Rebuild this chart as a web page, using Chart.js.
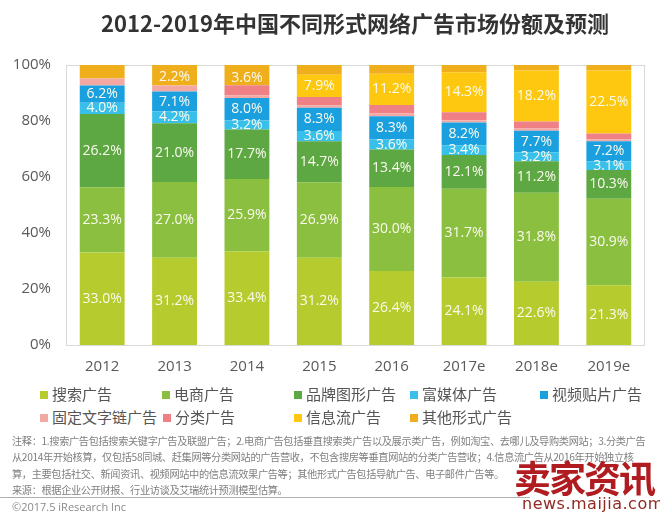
<!DOCTYPE html>
<html>
<head>
<meta charset="utf-8">
<script src="https://cdn.jsdelivr.net/npm/chart.js@4.4.0/dist/chart.umd.min.js"></script>
<style>
  body { margin: 0; background: #fff; font-family: "Noto Sans CJK SC", "Open Sans", sans-serif; }
  #wrap { position: relative; width: 660px; height: 515px; overflow: hidden; }
  #title { position: absolute; top: 6px; left: 0; width: 710px; text-align: center; font-size: 22px; font-weight: bold; color: #333; }
  #chartBox { position: absolute; left: 0; top: 0; width: 660px; height: 385px; }
  .lg { position: absolute; font-size: 15px; color: #555; white-space: nowrap; line-height: 18px; }
  .lg i { display: inline-block; width: 8px; height: 8px; margin-right: 4px; vertical-align: 1px; }
  #notes { position: absolute; left: 12px; top: 433px; font-size: 10.2px; letter-spacing: -0.35px; line-height: 16.3px; color: #7f7f7f; white-space: nowrap; }
  #rule { position: absolute; left: 0; top: 497px; width: 530px; height: 1px; background: #b0b0b0; }
  #copy { position: absolute; left: 12px; top: 499px; font-size: 11px; color: #8a8a8a; font-family: "Open Sans", sans-serif; }
  #wm1 { position: absolute; left: 514px; top: 450px; font-size: 37px; font-weight: bold; color: #b01c20; letter-spacing: -2px; }
  #wm2 { position: absolute; left: 522px; top: 494px; font-size: 16px; color: #8e2a22; letter-spacing: 0.5px; font-family: "DejaVu Sans", sans-serif; }
</style>
</head>
<body>
<div id="wrap">
  <div id="chartBox"><canvas id="share-chart" width="660" height="385"></canvas></div>
  <div id="title">2012-2019年中国不同形式网络广告市场份额及预测</div>
  <div id="legend"></div>
  <div id="notes">注释：1.搜索广告包括搜索关键字广告及联盟广告；2.电商广告包括垂直搜索类广告以及展示类广告，例如淘宝、去哪儿及导购类网站；3.分类广告<br>从2014年开始核算，仅包括58同城、赶集网等分类网站的广告营收，不包含搜房等垂直网站的分类广告营收；4.信息流广告从2016年开始独立核<br>算，主要包括社交、新闻资讯、视频网站中的信息流效果广告等；其他形式广告包括导航广告、电子邮件广告等。<br>来源：根据企业公开财报、行业访谈及艾瑞统计预测模型估算。</div>
  <div id="rule"></div>
  <div id="copy">©2017.5 iResearch Inc</div>
  <div id="wm1">卖家资讯</div>
  <div id="wm2">news.maijia.com</div>
</div>
<script>
var years = ["2012", "2013", "2014", "2015", "2016", "2017e", "2018e", "2019e"];

// shares in %, bottom of the stack first
var search     = [33.0, 31.2, 33.4, 31.2, 26.4, 24.1, 22.6, 21.3];
var ecommerce  = [23.3, 27.0, 25.9, 26.9, 30.0, 31.7, 31.8, 30.9];
var brand      = [26.2, 21.0, 17.7, 14.7, 13.4, 12.1, 11.2, 10.3];
var richMedia  = [4.0, 4.2, 3.2, 3.6, 3.6, 3.4, 3.2, 3.1];
var video      = [6.2, 7.1, 8.0, 8.3, 8.3, 8.2, 7.7, 7.2];
var textLink   = [2.5, 2.2, 1.0, 0.9, 1.0, 0.8, 0.8, 0.7];
var classified = [0, 0, 3.6, 3.0, 3.0, 2.8, 2.5, 2.0];
var feed       = [0, 0, 0, 7.9, 11.2, 14.3, 18.2, 22.5];
var other      = [4.8, 7.3, 7.2, 3.5, 3.1, 2.6, 2.0, 2.0];

var yTicks = [0, 20, 40, 60, 80, 100];

var names = ["搜索广告", "电商广告", "品牌图形广告", "富媒体广告", "视频贴片广告",
             "固定文字链广告", "分类广告", "信息流广告", "其他形式广告"];
var colors = ["#b5cb2e", "#8bbf3f", "#5ea843", "#38c0ea", "#1ba0df",
              "#f3a8a4", "#ee8086", "#fdc80f", "#efaf1d"];
var series = [search, ecommerce, brand, richMedia, video, textLink, classified, feed, other];

// which bars get a value label (pink ones only where the source shows one)
var labelled = [
  [1,1,1,1,1,1,1,1], [1,1,1,1,1,1,1,1], [1,1,1,1,1,1,1,1], [1,1,1,1,1,1,1,1], [1,1,1,1,1,1,1,1],
  [0,1,0,0,0,0,0,0], [0,0,1,0,0,0,0,0], [0,0,0,1,1,1,1,1], [0,0,0,0,0,0,0,0]
];

var datasets = series.map(function (d, i) {
  return {
    label: names[i],
    data: d,
    backgroundColor: colors[i],
    borderWidth: 0,
    barPercentage: 0.62,
    categoryPercentage: 1
  };
});

var barLabels = {
  id: "barLabels",
  afterDatasetsDraw: function (chart) {
    var ctx = chart.ctx;
    ctx.save();
    ctx.font = "14px 'Open Sans'";
    ctx.fillStyle = "#fafaee";
    ctx.textAlign = "center";
    ctx.textBaseline = "middle";
    chart.data.datasets.forEach(function (ds, di) {
      chart.getDatasetMeta(di).data.forEach(function (bar, i) {
        if (!labelled[di][i] || !ds.data[i]) return;
        var y = (bar.y + bar.base) / 2;
        if (di == 5 || di == 6) y -= 12;
        ctx.fillText(ds.data[i].toFixed(1) + "%", bar.x, y);
      });
    });
    ctx.restore();
  }
};

var frame = {
  id: "frame",
  beforeDatasetsDraw: function (chart) {
    var a = chart.chartArea;
    var ctx = chart.ctx;
    ctx.save();
    ctx.strokeStyle = "#d9d9d9";
    ctx.lineWidth = 1;
    ctx.strokeRect(a.left + 0.5, a.top + 0.5, a.right - a.left - 1, a.bottom - a.top);
    ctx.restore();
  }
};

new Chart("share-chart", {
  type: "bar",
  data: { labels: years, datasets: datasets },
  options: {
    responsive: false,
    animation: false,
    layout: { padding: { top: 65, right: 15, left: 0, bottom: 0 } },
    plugins: { legend: { display: false }, title: { display: false }, tooltip: { enabled: false } },
    scales: {
      x: {
        stacked: true,
        grid: { display: false, drawTicks: false },
        border: { display: false },
        ticks: { color: "#595959", font: { size: 15, family: "'Open Sans'" }, padding: 13 },
        afterFit: function (s) { s.height = 40; }
      },
      y: {
        stacked: true,
        min: 0,
        max: 100,
        grid: { display: false, drawTicks: false },
        border: { display: false },
        afterBuildTicks: function (s) { s.ticks = yTicks.map(function (v) { return { value: v }; }); },
        ticks: { color: "#595959", font: { size: 15, family: "'Open Sans'" }, padding: 15,
                 callback: function (v) { return v + "%"; } },
        afterFit: function (s) { s.width = 66; }
      }
    }
  },
  plugins: [frame, barLabels]
});

// legend laid out like the source: two rows on fixed columns
var legendPos = [
  [40, 385], [162, 385], [294, 385], [410, 385], [540, 385],
  [40, 408], [163, 408], [294, 408], [410, 408]
];
var lg = document.getElementById("legend");
names.forEach(function (n, i) {
  var el = document.createElement("div");
  el.className = "lg";
  el.style.left = legendPos[i][0] + "px";
  el.style.top = legendPos[i][1] + "px";
  el.innerHTML = '<i style="background:' + colors[i] + '"></i>' + n;
  lg.appendChild(el);
});
</script>
</body>
</html>
